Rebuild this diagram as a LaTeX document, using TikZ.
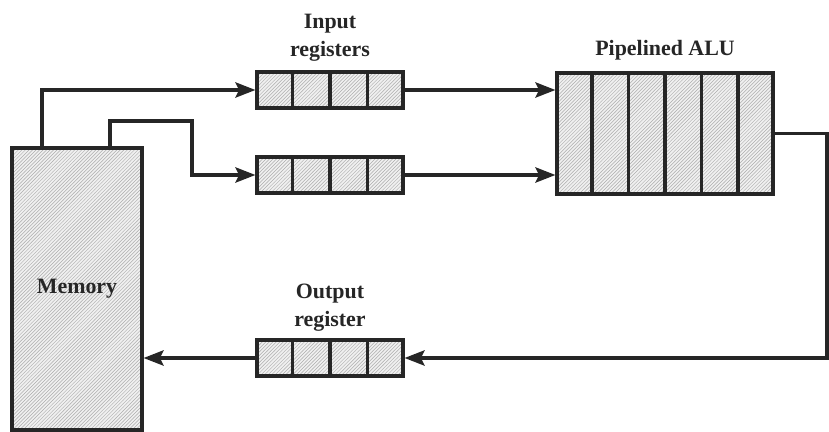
\documentclass[tikz,border=0pt]{standalone}
\usepackage{fontspec}
\setmainfont{Liberation Serif}
\usepackage{tikz}
\usetikzlibrary{arrows.meta}
\usetikzlibrary{calc}
\usetikzlibrary{patterns}
\usetikzlibrary{positioning}

\tikzset{
  hatch/.style={draw=black!85, line width=2.7pt, preaction={fill=gray!12}, pattern=north east lines, pattern color=gray!65, inner sep=0},
  reg/.style={hatch, minimum width=4.38cm, minimum height=1.08cm},
  lbl/.style={font=\fontsize{18.7}{23.8}\selectfont\bfseries, text=black!85, align=center, inner sep=0},
  flow/.style={draw=black!85, line width=2.7pt, -{Stealth[length=17pt,width=13pt,inset=3pt]}}
}

\begin{document}
\begin{tikzpicture}[x=0.03cm, y=-0.03cm]
\useasboundingbox (0,0) rectangle (829,432);

\node[hatch, minimum width=3.9cm, minimum height=8.46cm, font=\fontsize{18.7}{23.8}\selectfont\bfseries, text=black!85] (mem) at (77,289) {Memory};
\node[reg] (inA) at (330,90) {};
\node[reg] (inB) at (330,175) {};
\node[reg] (outR) at (330,358) {};
\node[hatch, minimum width=6.48cm, minimum height=3.63cm] (alu) at (665,133.5) {};

\foreach \r in {inA, inB, outR}
{\foreach \k in {1,2,3}
  {\draw[black!85, line width=2.7pt] ($(\r.north west)!\k/4!(\r.north east)$) -- ($(\r.south west)!\k/4!(\r.south east)$);}}
\foreach \k in {1,...,5}
{\draw[black!85, line width=2.7pt] ($(alu.north west)!\k/6!(alu.north east)$) -- ($(alu.south west)!\k/6!(alu.south east)$);}

\node[lbl, above=0.26cm of inA] (inL) {Input\\registers};
\node[lbl, above=0.32cm of alu] (aluL) {Pipelined ALU};
\node[lbl, above=0.2cm of outR] (outL) {Output\\register};

\coordinate (m1) at (42,148);
\coordinate (m2) at (110,148);
\coordinate (k) at (192,121);
\coordinate (rt) at (827,358);

\draw[flow] (m1) |- (inA.west);
\draw[flow] (m2) |- (k) |- (inB.west);
\draw[flow] (inA.east) -- (inA.east -| alu.west);
\draw[flow] (inB.east) -- (inB.east -| alu.west);
\draw[flow] (alu.east) -| (rt) -- (outR.east);
\draw[flow] (outR.west) -- (outR.west -| mem.east);

\end{tikzpicture}
\end{document}
